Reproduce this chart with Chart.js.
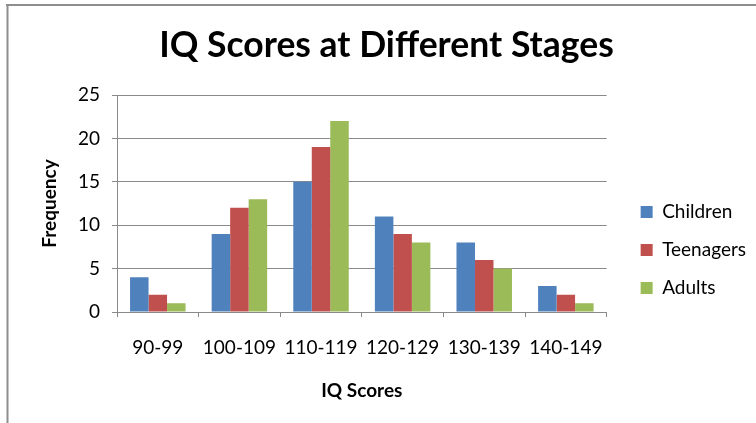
<!DOCTYPE html>
<html>
<head>
<meta charset="utf-8">
<script src="https://cdn.jsdelivr.net/npm/chart.js@4/dist/chart.umd.min.js"></script>
<style>
  html, body { margin: 0; padding: 0; background: #ffffff; }
  #wrap { width: 756px; height: 423px; }
</style>
</head>
<body>
<div id="wrap"><canvas id="c" width="756" height="423"></canvas></div>
<script>
const chartTitle = 'IQ Scores at Different Stages';
const xAxisTitle = 'IQ Scores';
const yAxisTitle = 'Frequency';
const categories = ['90-99', '100-109', '110-119', '120-129', '130-139', '140-149'];
const seriesNames = ['Children', 'Teenagers', 'Adults'];
const children = [4, 9, 15, 11, 8, 3];
const teenagers = [2, 12, 19, 9, 6, 2];
const adults = [1, 13, 22, 8, 5, 1];
const yTicks = [0, 5, 10, 15, 20, 25];

const colors = ['#4F81BD', '#C0504D', '#9BBB59'];
const FONT = 'Lato, "Open Sans", sans-serif';
const gridColor = '#8a8a8a';

const framePlugin = {
  id: 'frame',
  beforeDraw(chart) {
    const ctx = chart.ctx;
    ctx.save();
    ctx.strokeStyle = '#8e8e8e';
    ctx.lineWidth = 2;
    ctx.beginPath();
    ctx.moveTo(6, 5);
    ctx.lineTo(756, 5);
    ctx.moveTo(7.5, 4);
    ctx.lineTo(7.5, 423);
    ctx.stroke();
    ctx.restore();
  }
};

new Chart(document.getElementById('c'), {
  type: 'bar',
  data: {
    labels: categories,
    datasets: [
      { label: seriesNames[0], data: children, backgroundColor: colors[0] },
      { label: seriesNames[1], data: teenagers, backgroundColor: colors[1] },
      { label: seriesNames[2], data: adults, backgroundColor: colors[2] }
    ]
  },
  options: {
    responsive: false,
    animation: false,
    devicePixelRatio: 1,
    layout: { padding: { left: 17, right: 0, top: 0, bottom: 0 } },
    datasets: { bar: { categoryPercentage: 0.68, barPercentage: 1.0, borderWidth: 0 } },
    plugins: {
      title: {
        display: true,
        text: chartTitle,
        color: '#000',
        font: { family: FONT, size: 35.5, weight: 'bold', lineHeight: 1.2 },
        padding: { top: 24, bottom: 28.4 }
      },
      legend: {
        position: 'right',
        align: 'start',
        maxWidth: 137,
        title: { display: true, text: '', font: { size: 10, lineHeight: 1.2 }, padding: { top: 171.5, bottom: 0 } },
        labels: {
          boxWidth: 12,
          boxHeight: 12,
          padding: 19,
          color: '#000',
          font: { family: FONT, size: 19 }
        }
      },
      tooltip: { enabled: false }
    },
    scales: {
      x: {
        grid: { display: true, drawOnChartArea: false, drawTicks: true, tickLength: 5, offset: true, color: gridColor, lineWidth: 1 },
        border: { display: true, color: gridColor, width: 1 },
        ticks: { color: '#000', font: { family: FONT, size: 19 }, padding: 19.2, maxRotation: 0, autoSkip: false },
        title: { display: true, text: xAxisTitle, color: '#000', font: { family: FONT, size: 19, weight: 'bold', lineHeight: 1.2 }, padding: { top: 0, bottom: 20.6 } },
        afterFit(s) { s.height = 111; }
      },
      y: {
        min: 0,
        max: 25,
        afterBuildTicks(s) { s.ticks = yTicks.map(v => ({ value: v })); },
        grid: { color: gridColor, lineWidth: 1, tickLength: 5, drawTicks: true },
        border: { display: true, color: gridColor, width: 1 },
        ticks: { color: '#000', font: { family: FONT, size: 19 }, padding: 12 },
        title: { display: true, text: yAxisTitle, color: '#000', font: { family: FONT, size: 19, weight: 'bold', lineHeight: 1.2 }, padding: { top: 21.6, bottom: 0 } },
        afterFit(s) { s.width = 100; }
      },
      ySpacer: {
        type: 'linear',
        position: 'right',
        display: true,
        grid: { display: false, drawTicks: false },
        border: { display: false },
        ticks: { display: false },
        title: { display: false },
        afterFit(s) { s.width = 15; }
      }
    }
  },
  plugins: [framePlugin]
});
</script>
</body>
</html>
